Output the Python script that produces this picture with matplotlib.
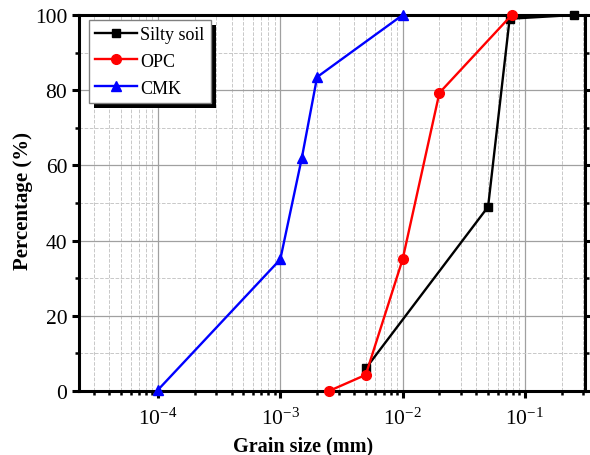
import math
import matplotlib
matplotlib.use("Agg")
import matplotlib.pyplot as plt
from matplotlib.ticker import LogLocator, FuncFormatter, MultipleLocator
from matplotlib.patches import Rectangle

plt.rcParams['font.family'] = ['Liberation Serif', 'DejaVu Serif']
plt.rcParams['mathtext.fontset'] = 'custom'
plt.rcParams['mathtext.rm'] = 'Liberation Serif'
plt.rcParams['mathtext.it'] = 'Liberation Serif:italic'
plt.rcParams['mathtext.bf'] = 'Liberation Serif:bold'

series_names = ["Silty soil", "OPC", "CMK"]
silty_x = [0.005, 0.05, 0.075, 0.25]
silty_y = [6, 49, 99, 100]
opc_x = [0.0025, 0.005, 0.01, 0.02, 0.078]
opc_y = [0, 4.3, 35, 79.3, 100]
cmk_x = [0.0001, 0.001, 0.0015, 0.002, 0.01]
cmk_y = [0.3, 35, 62, 83.5, 100]

fig = plt.figure(figsize=(5.9, 4.56), dpi=100)
ax = fig.add_axes([79/590, 1 - 392/456, (585-79)/590, (392-16)/456])

ax.plot(silty_x, silty_y, color='black', marker='s', ms=6, lw=1.7, label=series_names[0], clip_on=False, zorder=3)
ax.plot(opc_x, opc_y, color='red', marker='o', ms=7, lw=1.7, label=series_names[1], clip_on=False, zorder=3)
ax.plot(cmk_x, cmk_y, color='blue', marker='^', ms=7, lw=1.7, label=series_names[2], clip_on=False, zorder=3)

ax.set_xscale('log')
ax.set_xlim(2.26e-5, 0.31)
ax.set_ylim(0, 100)
ax.xaxis.set_major_locator(LogLocator(base=10, numticks=10))
ax.xaxis.set_minor_locator(LogLocator(base=10, subs=range(2, 10), numticks=20))
ax.xaxis.set_major_formatter(FuncFormatter(lambda v, p: r'$\mathregular{10^{%d}}$' % round(math.log10(v))))
ax.xaxis.set_minor_formatter(FuncFormatter(lambda v, p: ''))
ax.yaxis.set_major_locator(MultipleLocator(20))
ax.yaxis.set_minor_locator(MultipleLocator(10))

ax.grid(True, which='major', color='#a0a0a0', lw=0.9, ls='-')
ax.grid(True, which='minor', color='#c8c8c8', lw=0.7, ls='--')
ax.set_axisbelow(True)

for s in ax.spines.values():
    s.set_linewidth(2.2)
ax.tick_params(axis='both', which='major', direction='out', length=5, width=2.2, labelsize=15.5)
ax.tick_params(axis='both', which='minor', direction='out', length=3, width=1.8)
ax.tick_params(axis='y', which='both', right=True)
ax.tick_params(axis='x', which='major', pad=7)

ax.set_xlabel('Grain size (mm)', fontsize=14.5, fontweight='bold')
ax.set_ylabel('Percentage (%)', fontsize=15, fontweight='bold')
ax.xaxis.set_label_coords((303 - 79) / 506, (392 - 436) / 376)
ax.yaxis.set_label_coords((33 - 79) / 506, (392 - 201) / 376)

leg = ax.legend(loc='upper left', bbox_to_anchor=(10/506, 1 - 4.5/376), fontsize=13, frameon=True, fancybox=False,
                edgecolor='#808080', framealpha=1, borderaxespad=0, handlelength=2.3,
                handletextpad=0.2, labelspacing=0.55, borderpad=0.35)
leg.get_frame().set_linewidth(1.0)
leg.set_zorder(10)

fig.canvas.draw()
bb = leg.get_window_extent()
shadow = Rectangle((bb.x0 + 5, bb.y0 - 5), bb.width, bb.height, transform=None,
                   facecolor='black', edgecolor='none', zorder=9)
ax.add_artist(shadow)
shadow.set_clip_on(False)

fig.savefig('out.png', dpi=100)
